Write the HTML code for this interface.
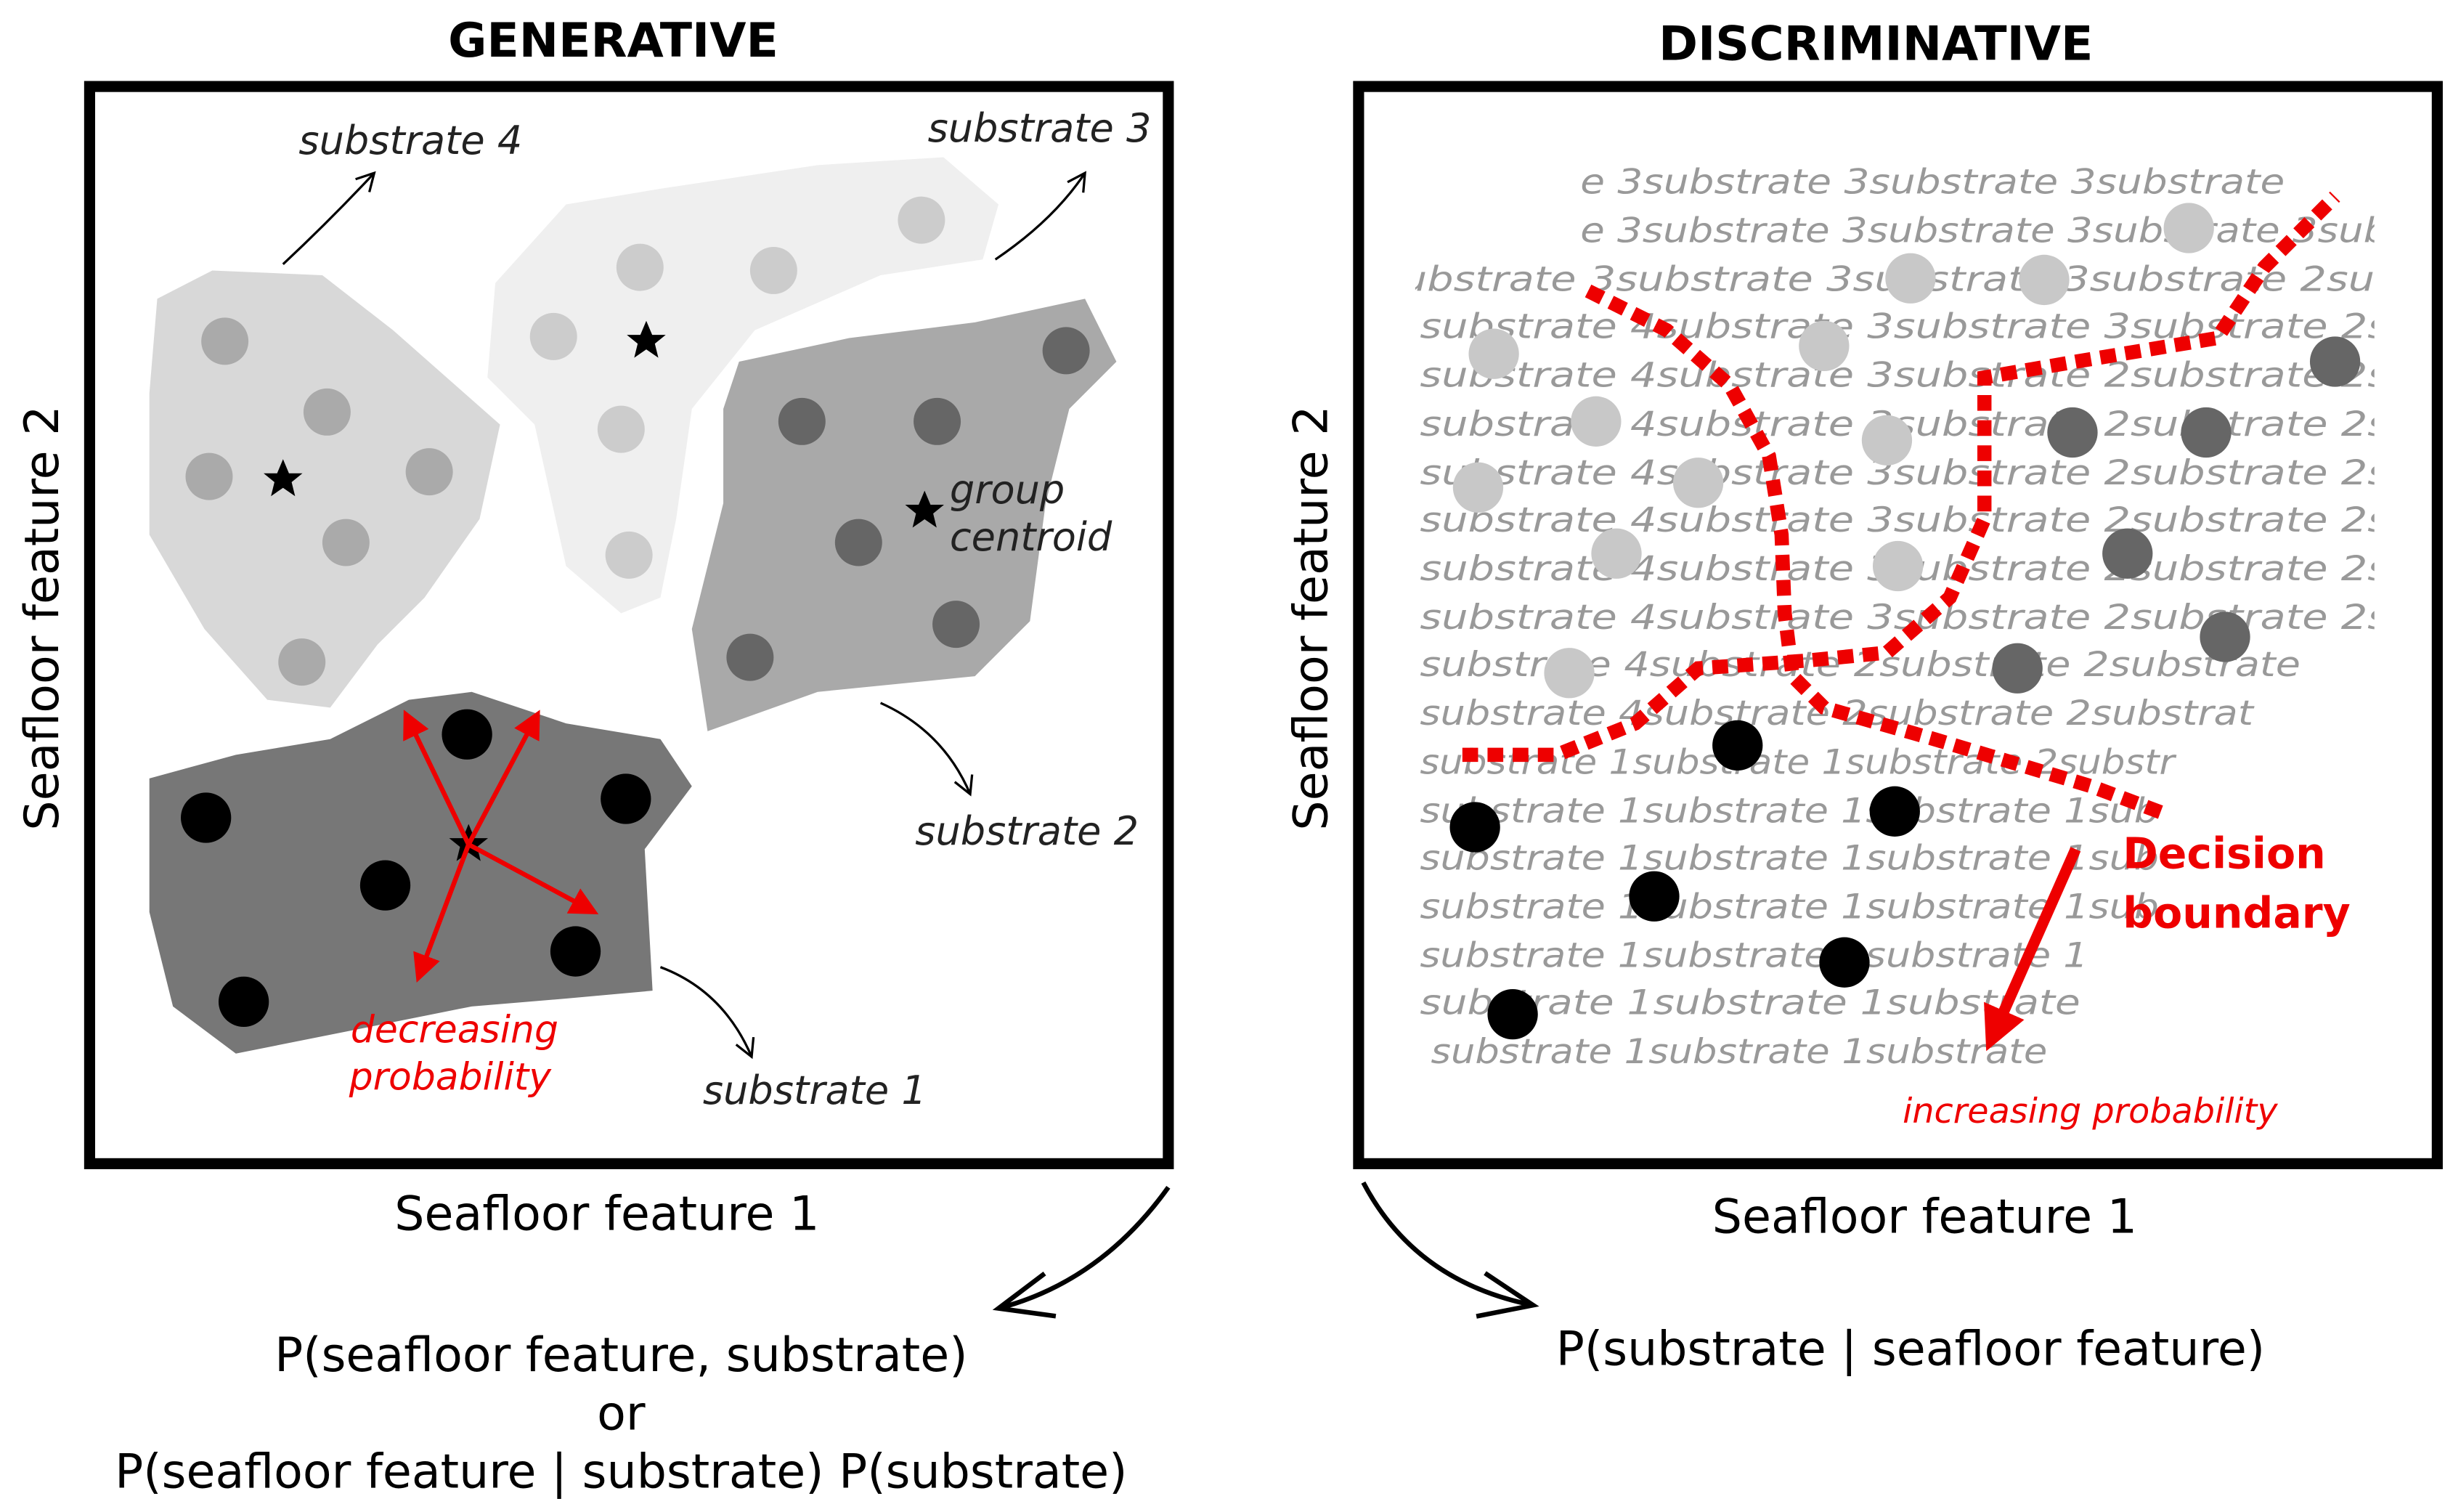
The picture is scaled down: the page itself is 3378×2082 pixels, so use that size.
<!DOCTYPE html>
<html><head><meta charset="utf-8"><style>html,body{margin:0;padding:0;background:#fff}svg{display:block}</style></head>
<body>
<svg width="3378" height="2082" viewBox="0 0 1560 961.5" preserveAspectRatio="none" xmlns="http://www.w3.org/2000/svg" font-family="'DejaVu Sans','Liberation Sans',sans-serif">
<defs>
<marker id="ra" markerWidth="6" markerHeight="6" refX="5" refY="3" orient="auto" markerUnits="strokeWidth"><path d="M0,0 L6,3 L0,6 z" fill="#e00"/></marker>
<marker id="rb" markerWidth="4" markerHeight="4" refX="3" refY="2" orient="auto" markerUnits="strokeWidth"><path d="M0,0 L4,2 L0,4 z" fill="#e00"/></marker>
<marker id="oa" markerWidth="14" markerHeight="14" refX="12" refY="7" orient="auto" markerUnits="userSpaceOnUse"><path d="M1,1 L12,7 L1,13" fill="none" stroke="#000" stroke-width="1.5"/></marker>
<marker id="ob" markerWidth="40" markerHeight="40" refX="36" refY="20" orient="auto" markerUnits="userSpaceOnUse"><path d="M2,6 L36,20 L2,34" fill="none" stroke="#000" stroke-width="3"/></marker>
<clipPath id="cp"><rect x="900" y="95" width="610" height="600"/></clipPath>
<symbol id="star" viewBox="-10 -10 20 20"><path d="M0,-10 L2.9,-3.1 L9.5,-3.1 L4.2,1.2 L5.9,8.1 L0,4 L-5.9,8.1 L-4.2,1.2 L-9.5,-3.1 L-2.9,-3.1 z" fill="#000"/></symbol>
</defs>
<text x="390" y="36" font-size="30" font-weight="bold" text-anchor="middle">GENERATIVE</text>
<text x="1193" y="38" font-size="30" font-weight="bold" text-anchor="middle">DISCRIMINATIVE</text>
<rect x="57" y="55" width="686" height="685" fill="#fff" stroke="#000" stroke-width="7"/>
<rect x="864" y="55" width="686" height="685" fill="#fff" stroke="#000" stroke-width="7"/>
<polygon points="100,190 135,172 205,175 250,210 318,270 305,330 270,380 240,410 210,450 170,445 130,400 95,340 95,250" fill="#d8d8d8"/>
<polygon points="315,180 360,130 420,120 520,105 600,100 635,130 625,165 560,175 480,210 440,260 430,330 420,380 395,390 360,360 340,270 310,240" fill="#efefef"/>
<polygon points="470,230 540,215 620,205 690,190 710,230 680,260 665,320 655,395 620,430 520,440 450,465 440,400 460,320 460,260" fill="#a9a9a9"/>
<polygon points="95,495 150,480 210,470 260,445 300,440 360,460 420,470 440,500 410,540 415,630 360,635 300,640 200,660 150,670 110,640 95,580" fill="#777"/>
<g fill="#aaa"><circle cx="143" cy="217" r="15"/><circle cx="208" cy="262" r="15"/><circle cx="133" cy="303" r="15"/><circle cx="273" cy="300" r="15"/><circle cx="220" cy="345" r="15"/><circle cx="192" cy="421" r="15"/></g>
<g fill="#ccc"><circle cx="407" cy="170" r="15"/><circle cx="492" cy="172" r="15"/><circle cx="586" cy="140" r="15"/><circle cx="352" cy="214" r="15"/><circle cx="395" cy="273" r="15"/><circle cx="400" cy="353" r="15"/></g>
<g fill="#666"><circle cx="678" cy="223" r="15"/><circle cx="510" cy="268" r="15"/><circle cx="596" cy="268" r="15"/><circle cx="546" cy="345" r="15"/><circle cx="608" cy="397" r="15"/><circle cx="477" cy="418" r="15"/></g>
<g fill="#000"><circle cx="131" cy="520" r="16"/><circle cx="297" cy="467" r="16"/><circle cx="398" cy="508" r="16"/><circle cx="245" cy="563" r="16"/><circle cx="366" cy="605" r="16"/><circle cx="155" cy="637" r="16"/></g>
<use href="#star" x="167" y="292" width="26" height="26"/>
<use href="#star" x="398" y="204" width="26" height="26"/>
<use href="#star" x="575" y="312" width="26" height="26"/>
<use href="#star" x="285" y="524" width="26" height="26"/>
<g stroke="#e00" stroke-width="3" marker-end="url(#ra)"><line x1="298" y1="537" x2="258" y2="454"/><line x1="298" y1="537" x2="342" y2="454"/><line x1="298" y1="537" x2="378" y2="580"/><line x1="298" y1="537" x2="266" y2="622"/></g>
<g fill="none" stroke="#000" stroke-width="1.5" marker-end="url(#oa)"><path d="M180,168 Q210,140 238,110"/><path d="M633,165 Q670,140 690,110"/><path d="M560,447 Q600,465 617,505"/><path d="M420,615 Q460,630 478,672"/></g>
<g font-size="25" font-style="italic" fill="#222"><text x="190" y="98">substrate 4</text><text x="590" y="90">substrate 3</text><text x="604" y="320">group</text><text x="604" y="350">centroid</text><text x="582" y="537">substrate 2</text><text x="447" y="702">substrate 1</text></g>
<g font-size="24" font-style="italic" fill="#e00"><text x="223" y="663">decreasing</text><text x="222" y="693">probability</text></g>
<g clip-path="url(#cp)" font-size="22" font-style="italic" fill="#999">
<text x="1005" y="123" textLength="448" lengthAdjust="spacingAndGlyphs">e 3substrate 3substrate 3substrate</text>
<text x="1005" y="154" textLength="514" lengthAdjust="spacingAndGlyphs">e 3substrate 3substrate 3substrate 3sub</text>
<text x="877" y="185" textLength="650" lengthAdjust="spacingAndGlyphs">substrate 3substrate 3substrate 3substrate 2sub</text>
<text x="903" y="215" textLength="650" lengthAdjust="spacingAndGlyphs">substrate 4substrate 3substrate 3substrate 2sub</text>
<text x="903" y="246" textLength="650" lengthAdjust="spacingAndGlyphs">substrate 4substrate 3substrate 2substrate 2sub</text>
<text x="903" y="277" textLength="650" lengthAdjust="spacingAndGlyphs">substrate 4substrate 3substrate 2substrate 2sub</text>
<text x="903" y="308" textLength="650" lengthAdjust="spacingAndGlyphs">substrate 4substrate 3substrate 2substrate 2sub</text>
<text x="903" y="338" textLength="650" lengthAdjust="spacingAndGlyphs">substrate 4substrate 3substrate 2substrate 2sub</text>
<text x="903" y="369" textLength="650" lengthAdjust="spacingAndGlyphs">substrate 4substrate 3substrate 2substrate 2sub</text>
<text x="903" y="400" textLength="650" lengthAdjust="spacingAndGlyphs">substrate 4substrate 3substrate 2substrate 2sub</text>
<text x="903" y="430" textLength="560" lengthAdjust="spacingAndGlyphs">substrate 4substrate 2substrate 2substrate</text>
<text x="903" y="461" textLength="530" lengthAdjust="spacingAndGlyphs">substrate 4substrate 2substrate 2substrat</text>
<text x="903" y="492" textLength="480" lengthAdjust="spacingAndGlyphs">substrate 1substrate 1substrate 2substr</text>
<text x="903" y="523" textLength="470" lengthAdjust="spacingAndGlyphs">substrate 1substrate 1substrate 1sub</text>
<text x="903" y="553" textLength="470" lengthAdjust="spacingAndGlyphs">substrate 1substrate 1substrate 1sub</text>
<text x="903" y="584" textLength="470" lengthAdjust="spacingAndGlyphs">substrate 1substrate 1substrate 1sub</text>
<text x="903" y="615" textLength="425" lengthAdjust="spacingAndGlyphs">substrate 1substrate 1substrate 1</text>
<text x="903" y="645" textLength="420" lengthAdjust="spacingAndGlyphs">substrate 1substrate 1substrate</text>
<text x="910" y="676" textLength="392" lengthAdjust="spacingAndGlyphs">substrate 1substrate 1substrate</text>
</g>
<g fill="#c8c8c8"><circle cx="1392" cy="145" r="16"/><circle cx="1215" cy="177" r="16"/><circle cx="1300" cy="178" r="16"/><circle cx="950" cy="225" r="16"/><circle cx="1160" cy="220" r="16"/><circle cx="1015" cy="268" r="16"/><circle cx="1200" cy="280" r="16"/><circle cx="940" cy="310" r="16"/><circle cx="1080" cy="307" r="16"/><circle cx="1028" cy="352" r="16"/><circle cx="1207" cy="360" r="16"/><circle cx="998" cy="428" r="16"/></g>
<g fill="#666"><circle cx="1485" cy="230" r="16"/><circle cx="1318" cy="275" r="16"/><circle cx="1403" cy="275" r="16"/><circle cx="1353" cy="352" r="16"/><circle cx="1415" cy="405" r="16"/><circle cx="1283" cy="425" r="16"/></g>
<g fill="#000"><circle cx="1105" cy="474" r="16"/><circle cx="938" cy="526" r="16"/><circle cx="1205" cy="516" r="16"/><circle cx="1052" cy="570" r="16"/><circle cx="1173" cy="612" r="16"/><circle cx="962" cy="645" r="16"/></g>
<g fill="none" stroke="#e00" stroke-width="9" stroke-dasharray="10 6">
<polyline points="1010,185 1060,210 1100,245 1125,290 1133,340 1135,390 1140,430 1160,450 1230,470 1330,500 1378,518"/>
<polyline points="930,480 990,480 1040,460 1080,425 1150,420 1200,415 1240,380 1262,330 1262,270 1262,240 1320,230 1410,215 1440,170 1485,125"/>
</g>
<line x1="1320" y1="540" x2="1266" y2="662" stroke="#e00" stroke-width="7" marker-end="url(#rb)"/>
<g font-size="27" font-weight="bold" fill="#e00"><text x="1350" y="552">Decision</text><text x="1350" y="590">boundary</text></g>
<text x="1210" y="714" font-size="22" font-style="italic" fill="#e00">increasing probability</text>
<text transform="translate(37,393) rotate(-90)" font-size="30" text-anchor="middle">Seafloor feature 2</text>
<text transform="translate(844,393) rotate(-90)" font-size="30" text-anchor="middle">Seafloor feature 2</text>
<text x="386" y="782" font-size="30" text-anchor="middle">Seafloor feature 1</text>
<text x="1224" y="784" font-size="30" text-anchor="middle">Seafloor feature 1</text>
<g fill="none" stroke="#000" stroke-width="3" marker-end="url(#ob)"><path d="M743,755 Q700,815 635,832"/><path d="M867,752 Q900,815 975,830"/></g>
<g font-size="30" text-anchor="middle"><text x="395" y="872">P(seafloor feature, substrate)</text><text x="395" y="909">or</text><text x="395" y="946">P(seafloor feature | substrate) P(substrate)</text><text x="1215" y="868">P(substrate | seafloor feature)</text></g>
</svg>
</body></html>
